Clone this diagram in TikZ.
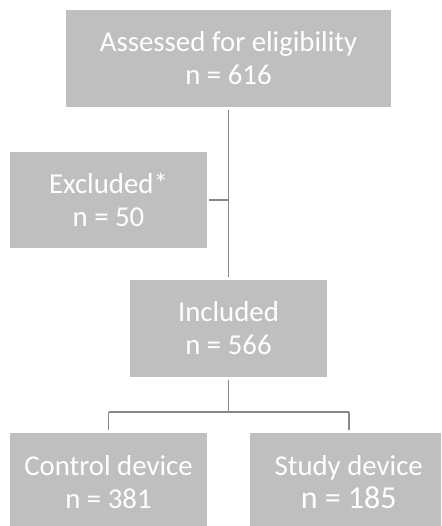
\documentclass[tikz,border=0pt]{standalone}
\usepackage{fontspec}
\setmainfont{Carlito}
\definecolor{boxgray}{HTML}{BFBFBF}
\definecolor{linegray}{HTML}{878787}
\begin{document}
\begin{tikzpicture}[x=1pt,y=-1pt,
  box/.style={fill=boxgray, draw=none, text=white, align=center, inner sep=0pt,
    font=\fontsize{28.8}{33}\selectfont},
  link/.style={draw=linegray, line width=1.3pt}]
\useasboundingbox (0,0) rectangle (441,526);
\clip (0,0) rectangle (441,526);
\node[box, minimum width=325pt, minimum height=97pt] (assess) at (228.5,58.5) {Assessed for eligibility\\n = 616};
\node[box, minimum width=197pt, minimum height=96pt] (excl) at (108.5,200) {Excluded*\\n = 50};
\node[box, minimum width=197pt, minimum height=97pt] (incl) at (228.5,328.5) {Included\\n = 566};
\node[box, minimum width=197pt, minimum height=97pt, anchor=north] (ctrl) at (108.5,433) {Control device\\n = 381};
\node[box, minimum width=197pt, minimum height=97pt, anchor=north west] (study) at (250,433) {Study device\\{\fontsize{32}{33}\selectfont n = 185}};
\coordinate (j1) at (228.5,200);
\coordinate (j2) at (228.5,412);
\draw[link] ([yshift=-3pt]assess.south) -- ([yshift=3pt]incl.north);
\draw[link] ([xshift=2pt]excl.east) -- (j1);
\draw[link] ([yshift=-3pt]incl.south) -- (j2);
\draw[link] (j2 -| ctrl.north) -- (j2 -| study.north) ;
\draw[link] (j2 -| ctrl.north) -- ([yshift=3pt]ctrl.north);
\coordinate (sx) at (349,433);
\draw[link] (j2 -| sx) -- ([yshift=3pt]sx);
\end{tikzpicture}
\end{document}
